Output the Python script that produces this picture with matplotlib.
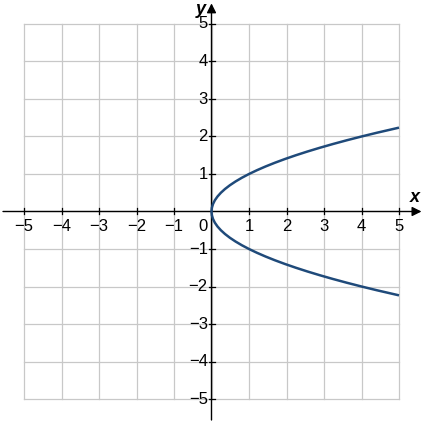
import matplotlib
matplotlib.use("Agg")
import matplotlib.pyplot as plt

# Points (x, y)
curve_y = [-2.236, -2.1, -2.0, -1.9, -1.8, -1.7, -1.6, -1.5, -1.4, -1.3, -1.2, -1.1,
           -1.0, -0.9, -0.8, -0.7, -0.6, -0.5, -0.4, -0.3, -0.2, -0.1, 0.0,
           0.1, 0.2, 0.3, 0.4, 0.5, 0.6, 0.7, 0.8, 0.9, 1.0,
           1.1, 1.2, 1.3, 1.4, 1.5, 1.6, 1.7, 1.8, 1.9, 2.0, 2.1, 2.236]
curve_x = [5.0, 4.41, 4.0, 3.61, 3.24, 2.89, 2.56, 2.25, 1.96, 1.69, 1.44, 1.21,
           1.0, 0.81, 0.64, 0.49, 0.36, 0.25, 0.16, 0.09, 0.04, 0.01, 0.0,
           0.01, 0.04, 0.09, 0.16, 0.25, 0.36, 0.49, 0.64, 0.81, 1.0,
           1.21, 1.44, 1.69, 1.96, 2.25, 2.56, 2.89, 3.24, 3.61, 4.0, 4.41, 5.0]
x_ticks = [-5, -4, -3, -2, -1, 1, 2, 3, 4, 5]
y_ticks = [-5, -4, -3, -2, -1, 1, 2, 3, 4, 5]
grid_vals = [-5, -4, -3, -2, -1, 0, 1, 2, 3, 4, 5]

FONT = ["Liberation Sans", "DejaVu Sans"]

fig = plt.figure(figsize=(4.23, 4.23), dpi=100)
ax = fig.add_axes([0, 0, 1, 1])
lim = 5.64
ax.set_xlim(-lim, lim)
ax.set_ylim(-lim, lim)
ax.axis("off")

grid_color = "#c8c8c8"
for g in grid_vals:
    ax.plot([g, g], [-5, 5], color=grid_color, lw=0.9, zorder=1)
    ax.plot([-5, 5], [g, g], color=grid_color, lw=0.9, zorder=1)

# axes with arrows
ax.annotate("", xy=(5.6, 0), xytext=(-5.56, 0),
            arrowprops=dict(arrowstyle="-|>", color="black", lw=1.0,
                            mutation_scale=14, shrinkA=0, shrinkB=0), zorder=3)
ax.annotate("", xy=(0, 5.55), xytext=(0, -5.56),
            arrowprops=dict(arrowstyle="-|>", color="black", lw=1.0,
                            mutation_scale=14, shrinkA=0, shrinkB=0), zorder=3)

tl = 0.08
fs = 12
for t in x_ticks:
    ax.plot([t, t], [-tl, tl], color="black", lw=0.9, zorder=3)
    lab = str(t).replace("-", "\u2212")
    ax.text(t, -0.2, lab, ha="center", va="top", fontsize=fs, family=FONT)
for t in y_ticks:
    ax.plot([-tl, tl], [t, t], color="black", lw=0.9, zorder=3)
    lab = str(t).replace("-", "\u2212")
    ax.text(-0.1, t, lab, ha="right", va="center", fontsize=fs, family=FONT)
ax.text(-0.1, -0.2, "0", ha="right", va="top", fontsize=fs, family=FONT)

ax.text(5.3, 0.15, "x", ha="left", va="bottom", fontsize=13, style="italic",
        fontweight="bold", family=FONT)
ax.text(-0.15, 5.17, "y", ha="right", va="bottom", fontsize=13, style="italic",
        fontweight="bold", family=FONT)

ax.plot(curve_x, curve_y, color="#1f4a7a", lw=1.8, zorder=4, solid_capstyle="butt")

fig.savefig("out.png", dpi=100)
